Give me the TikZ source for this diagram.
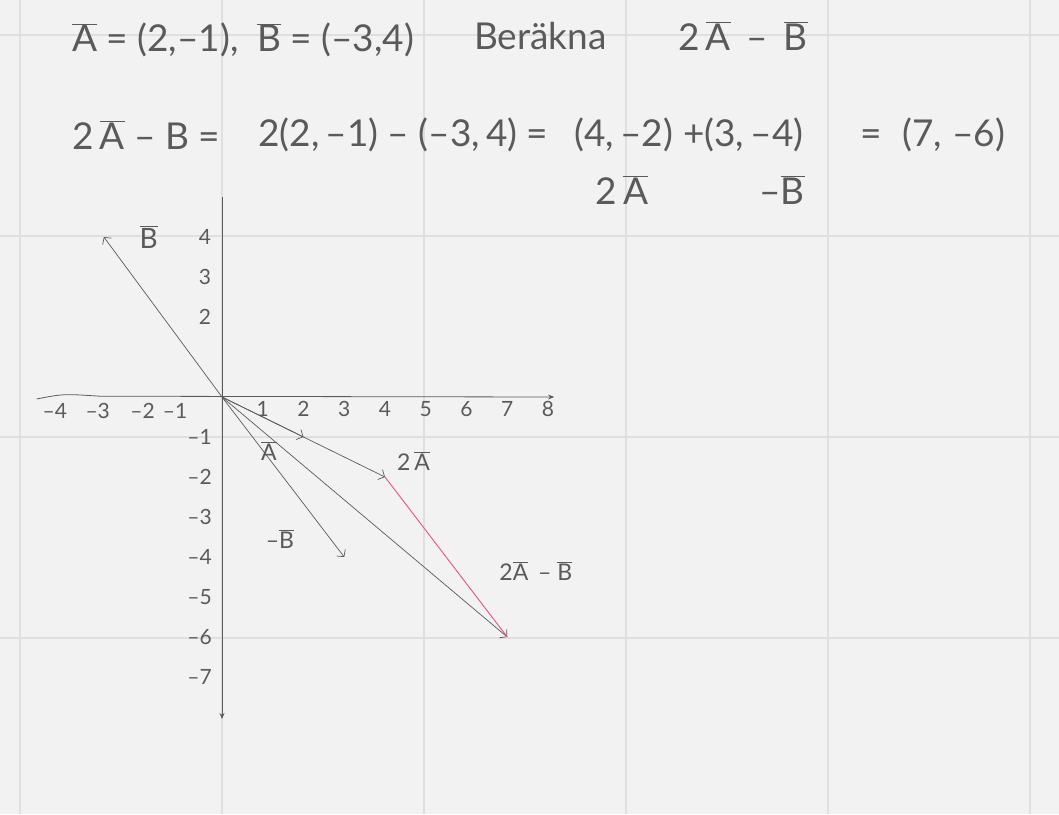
\documentclass[tikz,border=0pt]{standalone}
\usepackage{fontspec}
\setmainfont{Lato}
\usetikzlibrary{arrows.meta}
\definecolor{paper}{HTML}{F2F2F2}
\definecolor{gridln}{HTML}{DFDFDF}
\definecolor{ink}{HTML}{5A5A5A}
\definecolor{pinkink}{HTML}{E8508A}
\newcommand\ovl[1]{$\overline{\hbox{#1}}$}

\begin{document}
\begin{tikzpicture}[x=1pt, y=-1pt,
    every node/.style={text=ink, inner sep=0pt},
    big/.style={font=\fontsize{37}{40}\selectfont, anchor=west},
    tick/.style={font=\fontsize{21}{22}\selectfont},
    lbl/.style={font=\fontsize{23}{25}\selectfont},
    axis/.style={draw=ink, line width=0.8pt, -{Stealth[length=6pt, width=5pt]}},
    vecarr/.style={draw=ink, line width=0.7pt, -{Straight Barb[length=5pt, width=11pt]}},
    diff/.style={draw=pinkink, line width=0.9pt}
]
\fill[paper] (0,0) rectangle (1059,814);
\useasboundingbox (0,0) rectangle (1059,814);
% ruled background
\foreach \gx in {20,222,424,626,828,1030}
    \draw[gridln, line width=1.2pt] (\gx,0) -- (\gx,814);
\foreach \gy in {35,236,437,638}
    \draw[gridln, line width=1.2pt] (0,\gy) -- (1059,\gy);

% given vectors and task
\node[big] (given) at (72,40) {\ovl{A} = (2,–1),\enspace \ovl{B} = (–3,4)};
\node[big] (task)  at (474,36) {Beräkna};
\node[big] (goal)  at (678,36) {2\,\ovl{A}\, – \,\ovl{B}};

% calculation
\node[big] (calcL) at (72,135)  {2\,\ovl{A} – B =};
\node[big] (calcM) at (258,135) {2(2,\,–1) – (–3,\,4) =};
\node[big] (calcR) at (574,135) {(4,\,–2)\;+(3,\,–4)};
\node[big] (calcE) at (860,135) {=\;\;(7,\;–6)};
\node[big, anchor=center] (twoA) at (622,190) {2\,\ovl{A}};
\node[big, anchor=center] (negB) at (782,190) {–\ovl{B}};

% coordinate system
\begin{scope}[shift={(222,397)}, x=40.75pt, y=40pt]
\coordinate (O)  at (0,0);
\coordinate (xl) at (-4.55,-0.05);
\coordinate (xr) at (8.15,0);
\coordinate (yt) at (0,5);
\coordinate (yb) at (0,-8.05);
\draw[axis] (xl) .. controls (-3.9,0.08) .. (-3,0.02) -- (xr);
\draw[axis] (yt) -- (yb);

\foreach \k/\xx in {-4/-4.1, -3/-3.05, -2/-1.95, -1/-1.15}
    \node[tick] at (\xx,-0.35) {–\the\numexpr-\k\relax};
\foreach \k in {1,...,8}
    \node[tick] at (\k,-0.3) {\k};
\foreach \k in {2,3,4}
    \node[tick] at (-0.42,\k) {\k};
\foreach \k in {1,...,7}
    \node[tick] at (-0.55,-\k) {–\k};

\coordinate (B)  at (-2.9,4);
\coordinate (mB) at (3,-4);
\coordinate (A)  at (2,-1);
\coordinate (A2) at (4,-2);
\coordinate (D)  at (7,-6);

\draw[vecarr] (O) -- (B);
\draw[vecarr] (O) -- (mB);
\draw[vecarr] (O) -- (A2);
\draw[vecarr] (O) -- (A);
\draw[vecarr] (O) -- (D);
\draw[diff] (A2) -- (D);

\node[lbl, font=\fontsize{28}{30}\selectfont] (labB) at (-1.8,4) {\ovl{B}};
\node[lbl] (labA)  at (1.15,-1.35) {\ovl{A}};
\node[lbl] (labA2) at (4.7,-1.6)   {2\,\ovl{A}};
\node[lbl] (labmB) at (1.42,-3.55) {–\ovl{B}};
\node[lbl] (labD)  at (7.7,-4.35)  {2\ovl{A} \,– \ovl{B}};
\end{scope}
\end{tikzpicture}
\end{document}
